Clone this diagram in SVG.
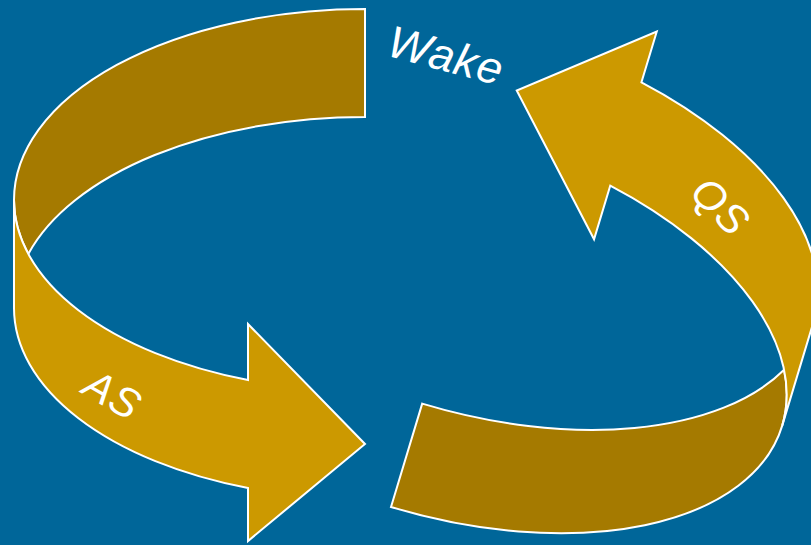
<svg xmlns="http://www.w3.org/2000/svg" width="811" height="545" viewBox="0 0 811 545">
  <style>
    .back { fill: #A57A00; stroke: #FFFFFF; stroke-width: 2; stroke-linejoin: miter; }
    .front { fill: #CC9900; stroke: #FFFFFF; stroke-width: 2; stroke-linejoin: miter; }
    .lbl { fill: #FFFFFF; font-family: "Liberation Sans", Arial, sans-serif; font-style: italic; font-size: 42px; text-anchor: middle; letter-spacing: 1px; }
  </style>
  <defs>
    <g id="ribbon">
      <path class="back" d="M365,9 A351,191 0 0 0 14,200 A351,191 0 0 0 28.3,254 A351,191 0 0 1 365,117 Z"/>
      <path class="front" d="M14,200 A351,191 0 0 0 248,380 L248,324 L365,444 L248,541 L248,488 A351,191 0 0 1 14,308 Z"/>
    </g>
  </defs>
  <rect x="0" y="0" width="811" height="545" fill="#006699"/>
  <g id="connectors">
    <g id="arrow-AS">
      <use href="#ribbon"/>
    </g>
    <g id="arrow-QS">
      <use href="#ribbon" transform="translate(391,507) rotate(196.8) translate(-365,-9)"/>
    </g>
  </g>
  <g id="node-wake">
    <text class="lbl" transform="translate(446,56) rotate(15)" x="0" y="15" style="font-size:45px">Wake</text>
  </g>
  <g id="label-AS">
    <text class="lbl" transform="translate(113,394) rotate(30)" x="0" y="15">AS</text>
  </g>
  <g id="label-QS">
    <text class="lbl" transform="translate(721,206) rotate(45)" x="0" y="15">QS</text>
  </g>
</svg>
